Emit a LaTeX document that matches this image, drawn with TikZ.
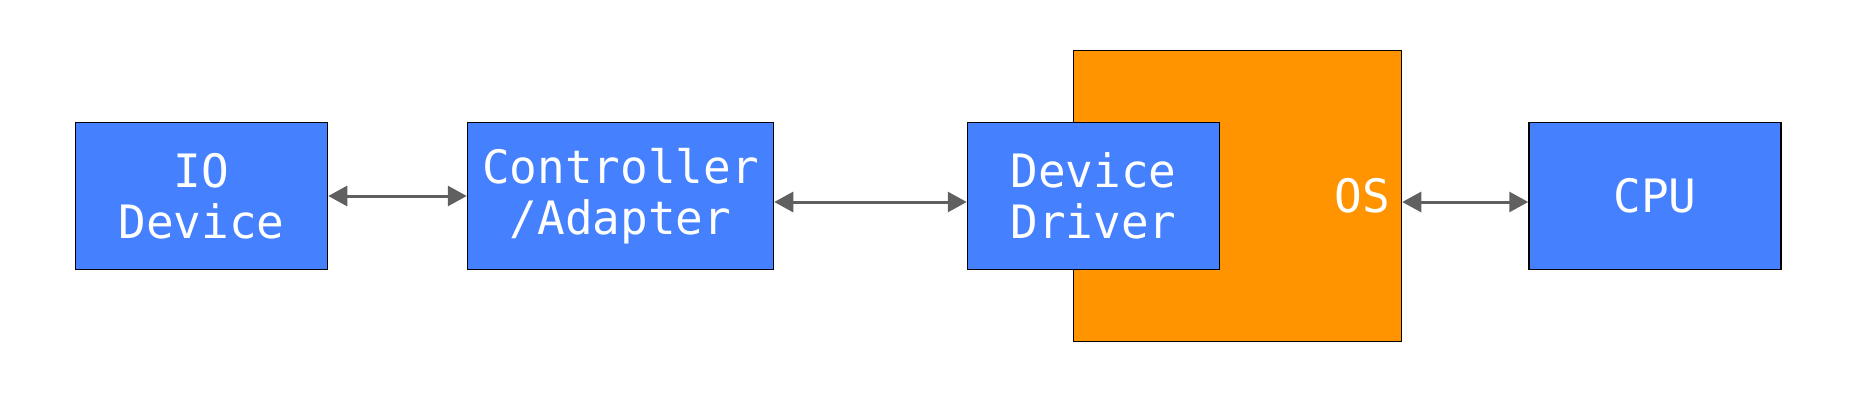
\documentclass[tikz,border=0pt]{standalone}
\usepackage{fontspec}
\usetikzlibrary{arrows.meta}
\newfontfamily\boxfont{DejaVu Sans Mono}
\definecolor{boxblue}{HTML}{4580FF}
\definecolor{osorange}{HTML}{FF9300}
\definecolor{linkgray}{HTML}{606060}

\begin{document}
\begin{tikzpicture}[x=1pt, y=-1pt,
        block/.style={draw, line width=1.5pt, fill=boxblue, text=white, minimum width=252pt, minimum height=147pt, inner sep=0pt, align=center, font=\boxfont\fontsize{46}{51}\selectfont},
        link/.style={{Triangle[length=19pt,width=20pt]}-{Triangle[length=19pt,width=20pt]}, line width=3pt, linkgray}]
        \useasboundingbox (0,0) rectangle (1860,402);

        % Draw the OS box first, the driver sits on top of it
        \node[block, fill=osorange, minimum width=328pt, minimum height=291pt, text width=305pt, align=right] (os) at (1237.5, 196) {OS};

        % Draw the blocks from left to right
        \node[block] (io) at (201.5, 196) {IO\\Device};
        \node[block, minimum width=306pt] (ctrl) at (620.5, 196) {Controller\\/Adapter};
        \node[block] (drv) at (1093.5, 196) {Device\\Driver};
        \node[block] (cpu) at (1655, 196) {CPU};

        % Arrows
        \draw[link] (io) -- (ctrl); % IO device to controller
        \draw[link] ([yshift=-6pt]ctrl.east) -- ([yshift=-6pt]drv.west); % controller to driver
        \draw[link] ([yshift=-6pt]os.east) -- ([yshift=-6pt]cpu.west); % OS to CPU
    \end{tikzpicture}
\end{document}
